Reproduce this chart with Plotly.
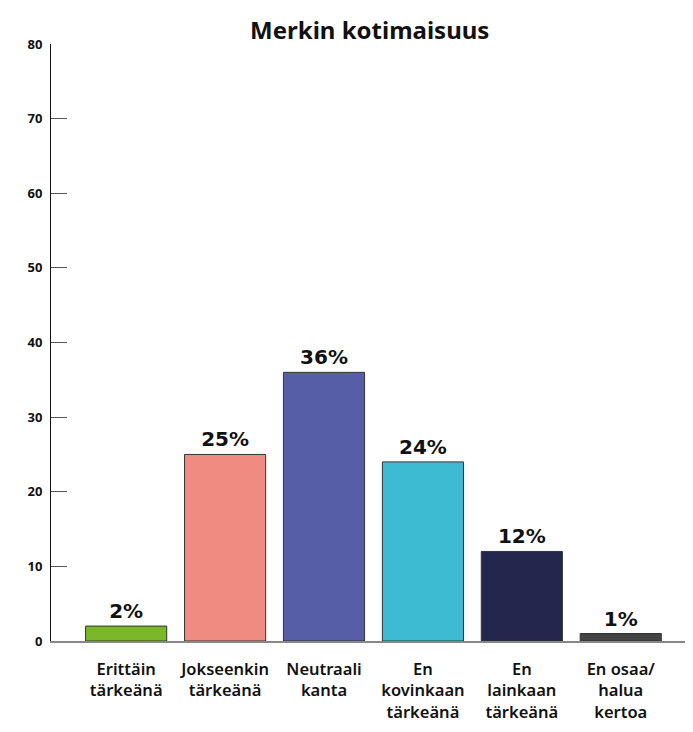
import plotly.graph_objects as go

categories = ["Erittäin<br>tärkeänä", "Jokseenkin<br>tärkeänä", "Neutraali<br>kanta",
              "En<br>kovinkaan<br>tärkeänä", "En<br>lainkaan<br>tärkeänä", "En osaa/<br>halua<br>kertoa"]
values = [2, 25, 36, 24, 12, 1]
colors = ["#7ab82a", "#f08b82", "#565ea8", "#3dbbd3", "#23264d", "#444444"]
y_ticks = [0, 10, 20, 30, 40, 50, 60, 70, 80]

FONT = "Noto Sans"
FONT2 = "DejaVu Sans"

fig = go.Figure(go.Bar(
    x=list(range(len(categories))),
    y=values,
    marker=dict(color=colors, line=dict(color="#333333", width=1)),
    width=0.82,
    text=[f"{v}%" for v in values],
    textposition="outside",
    textfont=dict(family=FONT2, size=20, color="#111111", weight="bold"),
    cliponaxis=False,
))

fig.update_layout(
    width=693, height=732,
    margin=dict(l=43, r=11, t=36, b=99),
    plot_bgcolor="white", paper_bgcolor="white",
    title=dict(text="<b>Merkin kotimaisuus</b>", x=0.522, xanchor="center", y=0.981,
               font=dict(family=FONT, size=24, color="#111111")),
    showlegend=False,
)
fig.update_xaxes(
    range=[-0.76, 5.7], automargin=False,
    tickmode="array", tickvals=list(range(len(categories))), ticktext=categories,
    tickfont=dict(family=FONT, size=16.5, color="#111111", weight=600),
    showline=True, linecolor="#888888", linewidth=2,
    ticks="", showgrid=False, zeroline=False,
    ticklabelstandoff=12,
)
fig.update_yaxes(
    range=[0, 80], automargin=False,
    tickmode="array", tickvals=y_ticks,
    tickfont=dict(family=FONT, size=13, color="#111111", weight="bold"),
    showline=True, linecolor="#111111", linewidth=1,
    ticks="inside", ticklen=16, tickcolor="#555555", tickwidth=1,
    showgrid=False, zeroline=False,
    ticklabelstandoff=5,
)

fig.write_html("out.html")
